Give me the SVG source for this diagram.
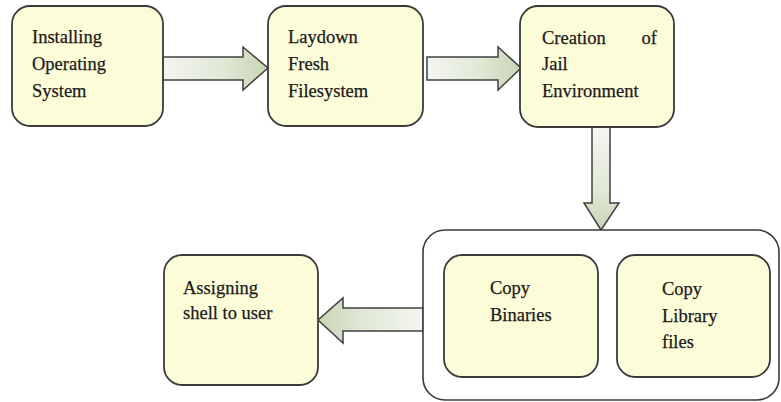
<svg xmlns="http://www.w3.org/2000/svg" width="781" height="402" viewBox="0 0 781 402">
<defs>
<linearGradient id="gh" x1="0" y1="0" x2="1" y2="0">
<stop offset="0" stop-color="#f4f6f0"/>
<stop offset="0.6" stop-color="#dfe7d3"/>
<stop offset="1" stop-color="#c8d4b5"/>
</linearGradient>
<linearGradient id="gl" x1="1" y1="0" x2="0" y2="0">
<stop offset="0" stop-color="#f4f6f0"/>
<stop offset="0.6" stop-color="#dfe7d3"/>
<stop offset="1" stop-color="#c8d4b5"/>
</linearGradient>
<linearGradient id="gv" x1="0" y1="0" x2="0" y2="1">
<stop offset="0" stop-color="#f4f6f0"/>
<stop offset="0.6" stop-color="#e2e9d6"/>
<stop offset="1" stop-color="#c8d4b5"/>
</linearGradient>
</defs>
<style>
.box{fill:#fdfcd9;stroke:#3a3a3a;stroke-width:1.8}
.cont{fill:#ffffff;stroke:#3a3a3a;stroke-width:1.6}
.arr{stroke:#404040;stroke-width:1.5;stroke-linejoin:miter}
text{font-family:"Liberation Serif","Times New Roman",serif;font-size:18.5px;fill:#1a1a1a;stroke:#1a1a1a;stroke-width:0.25}
</style>
<rect width="781" height="402" fill="#ffffff"/>
<g id="connectors">
<polygon class="arr" fill="url(#gh)" points="163,57 243,57 243,47 268,68 243,90 243,80 163,80"/>
<polygon class="arr" fill="url(#gh)" points="427,57 498,57 498,47 521,68 498,90 498,80 427,80"/>
<polygon class="arr" fill="url(#gv)" points="592,127 610,127 610,203 619,203 601,230 584,203 592,203"/>
<polygon class="arr" fill="url(#gl)" points="423,308 343,308 343,298 318,320 343,343 343,331 423,331"/>
</g>
<g id="installing">
<rect class="box" x="12" y="6" width="151" height="120" rx="18"/>
<text x="32" y="43">Installing</text>
<text x="32" y="70">Operating</text>
<text x="32" y="97">System</text>
</g>
<g id="laydown">
<rect class="box" x="268" y="6" width="155" height="120" rx="18"/>
<text x="288" y="43">Laydown</text>
<text x="288" y="70">Fresh</text>
<text x="288" y="97">Filesystem</text>
</g>
<g id="creation">
<rect class="box" x="520" y="6" width="154" height="121" rx="18"/>
<text x="542" y="44">Creation</text>
<text x="657" y="44" text-anchor="end">of</text>
<text x="542" y="70">Jail</text>
<text x="542" y="97">Environment</text>
</g>
<g id="copy-group">
<rect class="cont" x="423" y="230" width="356" height="170" rx="22"/>
</g>
<g id="copy-binaries">
<rect class="box" x="444" y="255" width="154" height="122" rx="18"/>
<text x="490" y="294">Copy</text>
<text x="490" y="321">Binaries</text>
</g>
<g id="copy-library">
<rect class="box" x="617" y="255" width="153" height="122" rx="18"/>
<text x="662" y="295">Copy</text>
<text x="662" y="322">Library</text>
<text x="662" y="348">files</text>
</g>
<g id="assigning">
<rect class="box" x="164" y="255" width="154" height="130" rx="18"/>
<text x="183" y="294">Assigning</text>
<text x="183" y="319">shell to user</text>
</g>
</svg>
